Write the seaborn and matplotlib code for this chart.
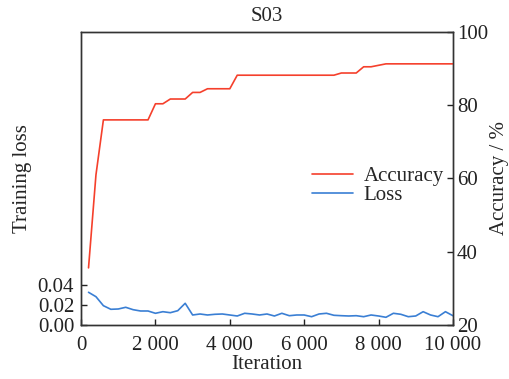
import numpy as np
import pandas as pd
import seaborn as sns
import matplotlib
matplotlib.use("Agg")
import matplotlib.pyplot as plt

# iterations (every 200)
iterations = list(range(200, 10001, 200))

accuracy = [35.6, 61.0, 76.0, 76.0, 76.0, 76.0, 76.0, 76.0, 76.0, 80.4,
            80.4, 81.7, 81.7, 81.7, 83.5, 83.5, 84.5, 84.5, 84.5, 84.5,
            88.2, 88.2, 88.2, 88.2, 88.2, 88.2, 88.2, 88.2, 88.2, 88.2,
            88.2, 88.2, 88.2, 88.2, 88.8, 88.8, 88.8, 90.5, 90.5, 90.9,
            91.3, 91.3, 91.3, 91.3, 91.3, 91.3, 91.3, 91.3, 91.3, 91.3]

loss = [0.0327, 0.0283, 0.0193, 0.0157, 0.0160, 0.0177, 0.0153, 0.0140, 0.0140, 0.0117,
        0.0133, 0.0123, 0.0143, 0.0217, 0.0100, 0.0110, 0.0100, 0.0107, 0.0110, 0.0100,
        0.0090, 0.0117, 0.0110, 0.0100, 0.0110, 0.0090, 0.0117, 0.0093, 0.0100, 0.0100,
        0.0083, 0.0110, 0.0117, 0.0097, 0.0093, 0.0090, 0.0093, 0.0083, 0.0100, 0.0090,
        0.0077, 0.0117, 0.0107, 0.0083, 0.0090, 0.0133, 0.0100, 0.0083, 0.0133, 0.0093]

df = pd.DataFrame({"Iteration": iterations, "Accuracy": accuracy, "Loss": loss})

sns.set_style("ticks")
plt.rcParams["font.family"] = ["Liberation Serif", "DejaVu Serif"]
plt.rcParams["font.size"] = 15

fig = plt.figure(figsize=(5.1, 3.79), dpi=100)
ax = fig.add_axes([0.159, 0.1425, 0.729, 0.7731])
ax2 = ax.twinx()

sns.lineplot(data=df, x="Iteration", y="Loss", ax=ax, color="#3a7fd4", lw=1.2, label="Loss", legend=False)
sns.lineplot(data=df, x="Iteration", y="Accuracy", ax=ax2, color="#f5402c", lw=1.2, label="Accuracy", legend=False)

ax.set_xlim(0, 10000)
ax.set_ylim(0, 0.293)
ax.set_yticks([0, 0.02, 0.04])
ax.set_yticklabels(["0.00", "0.02", "0.04"])
ax.set_xticks([0, 2000, 4000, 6000, 8000, 10000])
ax.set_xticklabels(["0", "2 000", "4 000", "6 000", "8 000", "10 000"])
ax2.set_ylim(20, 100)
ax2.set_yticks([20, 40, 60, 80, 100])

ax.set_xlabel("Iteration", fontsize=15, labelpad=0)
ax.set_ylabel("Training loss", fontsize=15, labelpad=4)
ax2.set_ylabel("Accuracy / %", fontsize=15, labelpad=1)
ax.set_title("S03", fontsize=15, pad=8)

for a in (ax, ax2):
    a.tick_params(direction="in", length=4, width=1, labelsize=15, pad=3, colors="#222222")
    for s in a.spines.values():
        s.set_color("#333333")
        s.set_linewidth(1.0)
ax.tick_params(axis="x", pad=8)
ax.tick_params(axis="y", pad=5)

h1, l1 = ax2.get_legend_handles_labels()
h2, l2 = ax.get_legend_handles_labels()
ax2.legend(h1 + h2, l1 + l2, loc="center right", bbox_to_anchor=(1.01, 0.475),
           frameon=False, fontsize=15, handlelength=2.0, handletextpad=0.5,
           labelspacing=0.0, borderaxespad=0.2)

fig.savefig("out.png", dpi=100)
